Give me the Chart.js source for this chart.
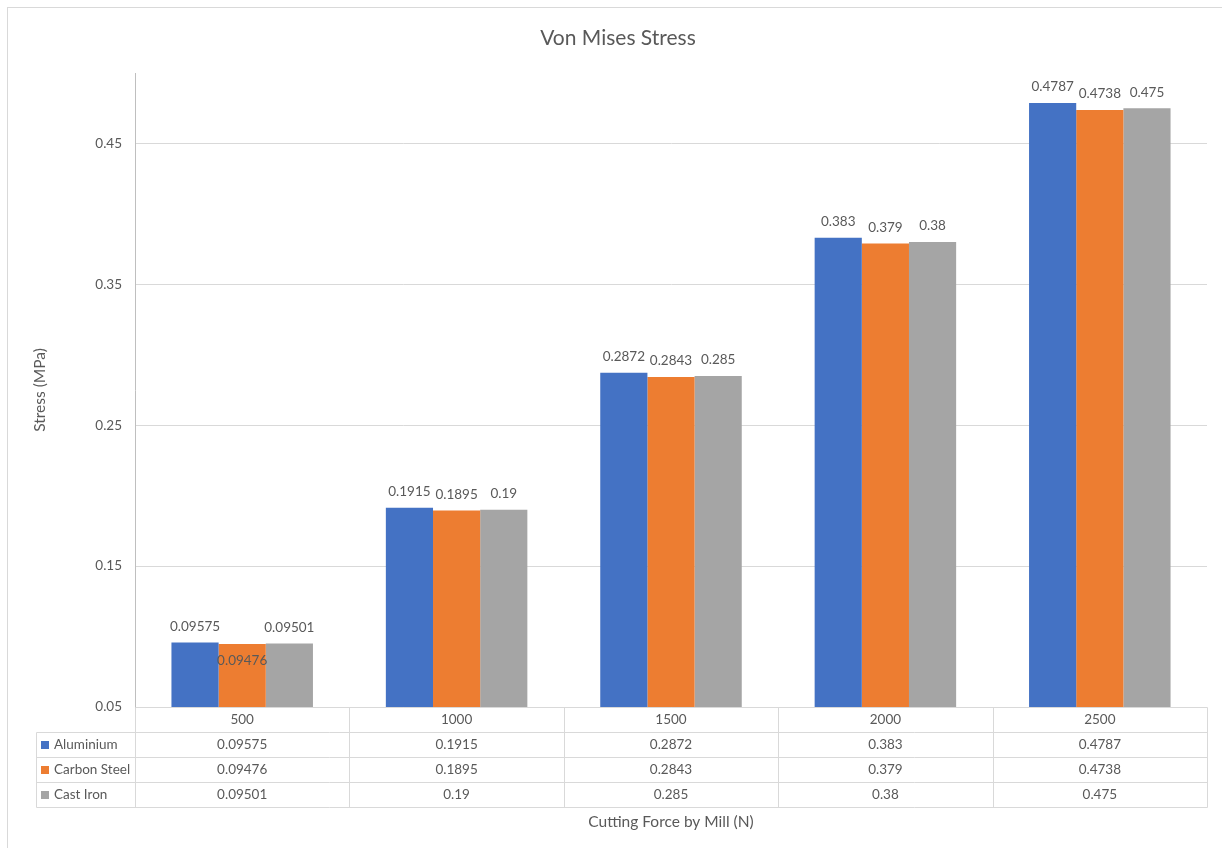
<!DOCTYPE html>
<html>
<head>
<meta charset="utf-8">
<title>Von Mises Stress</title>
<script src="https://cdn.jsdelivr.net/npm/chart.js@4.4.0/dist/chart.umd.min.js"></script>
<style>
html, body { margin: 0; padding: 0; background: #fff; }
canvas { display: block; }
</style>
</head>
<body>
<canvas id="stressChart" width="1222" height="848"></canvas>
<script>
// cutting force categories (N) and stress per material (MPa)
const forces = ['500', '1000', '1500', '2000', '2500'];
const aluminium = [0.09575, 0.1915, 0.2872, 0.383, 0.4787];
const carbonSteel = [0.09476, 0.1895, 0.2843, 0.379, 0.4738];
const castIron = [0.09501, 0.19, 0.285, 0.38, 0.475];
const stressTicks = [0.05, 0.15, 0.25, 0.35, 0.45];

const seriesNames = ['Aluminium', 'Carbon Steel', 'Cast Iron'];
const seriesColors = ['#4472C4', '#ED7D31', '#A5A5A5'];

const textColor = '#595959';
const lineColor = '#D9D9D9';
const fontFamily = 'Lato, "Noto Sans", sans-serif';
const smallFont = '13.5px ' + fontFamily;
const axisTitleSize = 15.5;

// frame, title, bar value labels and the data table under the plot
const excelExtras = {
    id: 'excelExtras',
    beforeDraw(chart) {
        const ctx = chart.ctx;
        ctx.save();
        ctx.strokeStyle = lineColor;
        ctx.lineWidth = 1;
        ctx.strokeRect(7.5, 7.5, 1240, 900);
        ctx.restore();
    },
    afterDatasetsDraw(chart) {
        const ctx = chart.ctx;
        ctx.save();
        ctx.font = smallFont;
        ctx.fillStyle = textColor;
        ctx.textAlign = 'center';
        ctx.textBaseline = 'middle';
        for (let i = 0; i < forces.length; i++) {
            let prev = null;
            chart.data.datasets.forEach((ds, d) => {
                const bar = chart.getDatasetMeta(d).data[i];
                const text = String(ds.data[i]);
                const w = ctx.measureText(text).width;
                const box = { l: bar.x - w / 2, r: bar.x + w / 2, y: bar.y - 16 };
                // push a label into the bar when it would collide with its neighbour
                if (prev && box.l < prev.r && Math.abs(box.y - prev.y) < 14) {
                    box.y = bar.y + 17;
                }
                ctx.fillText(text, bar.x, box.y);
                prev = box;
            });
        }
        ctx.restore();
    },
    afterDraw(chart) {
        const ctx = chart.ctx;
        const x = chart.scales.x;
        const area = chart.chartArea;
        const rowH = 25;
        const top = area.bottom;
        const colW = (x.right - x.left) / forces.length;
        const tableLeft = 36;
        const px = v => Math.round(v) + 0.5;

        ctx.save();
        ctx.strokeStyle = lineColor;
        ctx.lineWidth = 1;
        ctx.beginPath();
        ctx.moveTo(px(x.left), px(top));
        ctx.lineTo(px(x.right), px(top));
        for (let r = 1; r <= seriesNames.length + 1; r++) {
            ctx.moveTo(px(tableLeft), px(top + r * rowH));
            ctx.lineTo(px(x.right), px(top + r * rowH));
        }
        ctx.moveTo(px(tableLeft), px(top + rowH));
        ctx.lineTo(px(tableLeft), px(top + (seriesNames.length + 1) * rowH));
        for (let c = 0; c <= forces.length; c++) {
            ctx.moveTo(px(x.left + c * colW), px(top));
            ctx.lineTo(px(x.left + c * colW), px(top + (seriesNames.length + 1) * rowH));
        }
        ctx.stroke();

        ctx.font = smallFont;
        ctx.fillStyle = textColor;
        ctx.textBaseline = 'middle';
        ctx.textAlign = 'center';
        forces.forEach((f, i) => {
            ctx.fillText(f, x.getPixelForValue(i), top + rowH / 2);
        });
        chart.data.datasets.forEach((ds, d) => {
            const cy = top + (d + 1) * rowH + rowH / 2;
            ctx.textAlign = 'center';
            ctx.fillStyle = textColor;
            ds.data.forEach((v, i) => {
                ctx.fillText(String(v), x.getPixelForValue(i), cy);
            });
            ctx.fillStyle = seriesColors[d];
            ctx.fillRect(41, Math.round(cy) - 4, 8, 8);
            ctx.fillStyle = textColor;
            ctx.textAlign = 'left';
            ctx.fillText(ds.label, 54, cy);
        });

        // axis title below the table
        ctx.textAlign = 'center';
        ctx.font = axisTitleSize + 'px ' + fontFamily;
        ctx.fillText('Cutting Force by Mill (N)', (x.left + x.right) / 2, 822);

        // chart title
        ctx.font = '21px ' + fontFamily;
        ctx.fillText('Von Mises Stress', 618, 38);
        ctx.restore();
    }
};

const stressData = {
    labels: forces,
    datasets: [aluminium, carbonSteel, castIron].map((values, d) => ({
        label: seriesNames[d],
        data: values,
        backgroundColor: seriesColors[d],
        borderWidth: 0,
        categoryPercentage: 0.66,
        barPercentage: 1
    }))
};

const stressChart = new Chart(document.getElementById('stressChart').getContext('2d'), {
    type: 'bar',
    data: stressData,
    options: {
        responsive: false,
        animation: false,
        layout: {
            padding: { top: 73, right: 15, bottom: 141, left: 0 }
        },
        plugins: {
            legend: { display: false },
            title: { display: false },
            tooltip: { enabled: false }
        },
        scales: {
            x: {
                display: false
            },
            y: {
                min: 0.05,
                max: 0.5,
                afterBuildTicks: scale => {
                    scale.ticks = stressTicks.map(v => ({ value: v }));
                },
                afterFit: scale => {
                    scale.width = 135;
                },
                grid: {
                    color: lineColor,
                    drawTicks: false
                },
                border: {
                    color: '#BFBFBF'
                },
                ticks: {
                    color: textColor,
                    padding: 13,
                    font: { family: fontFamily, size: 13.5 },
                    callback: v => String(v)
                },
                title: {
                    display: true,
                    text: 'Stress (MPa)',
                    color: textColor,
                    font: { family: fontFamily, size: axisTitleSize },
                    padding: { top: 31, bottom: 0 }
                }
            }
        }
    },
    plugins: [excelExtras]
});
</script>
</body>
</html>
